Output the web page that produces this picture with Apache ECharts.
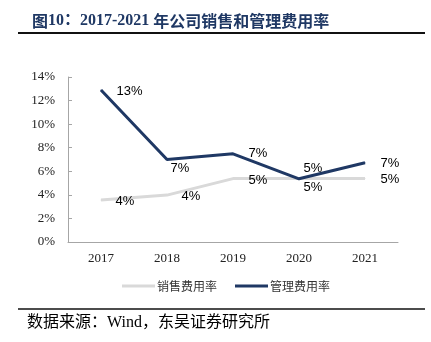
<!DOCTYPE html>
<html>
<head>
<meta charset="utf-8">
<script src="https://cdn.jsdelivr.net/npm/echarts@6/dist/echarts.min.js"></script>
<style>
html,body{margin:0;padding:0;background:#fff;}
#c{width:431px;height:342px;}
</style>
</head>
<body>
<div id="c"></div>
<script>
var categories = ['2017', '2018', '2019', '2020', '2021'];
var salesRate = [3.56, 3.98, 5.38, 5.38, 5.38];
var mgmtRate = [12.9, 7.0, 7.48, 5.36, 6.72];
var salesLabels = ['4%', '4%', '5%', '5%', '5%'];
var mgmtLabels = ['13%', '7%', '7%', '5%', '7%'];
var yTicks = [0, 2, 4, 6, 8, 10, 12, 14];
var salesOffsets = [[0, 1], [0, 1], [1, 2], [-10, 9], [1, 1]];
var mgmtOffsets = [[1, 1], [-11, 9], [1, 0], [-10, -10], [1, 1]];

function build(vals, labels, offs) {
  return vals.map(function (v, i) {
    return { value: v, label: { formatter: labels[i], offset: offs[i] } };
  });
}

var chart = echarts.init(document.getElementById('c'));
var labelStyle = { show: true, position: 'right', distance: 14, color: '#000', fontSize: 13, fontFamily: 'Liberation Sans, Arial, sans-serif' };
chart.setOption({
  animation: false,
  backgroundColor: '#fff',
  title: {
    text: '{a|图}{b|10：}{b|2017-2021 }{a|年公司销售和管理费用率}',
    left: 27, top: 8,
    textStyle: {
      rich: {
        a: { fontFamily: 'Noto Sans CJK SC', fontWeight: 'bold', fontSize: 16, color: '#1f3864' },
        b: { fontFamily: 'Liberation Serif, Noto Sans CJK SC', fontWeight: 'bold', fontSize: 16, color: '#1f3864' }
      }
    }
  },
  graphic: [
    { type: 'line', shape: { x1: 18, y1: 33, x2: 425, y2: 33 }, style: { stroke: '#111', lineWidth: 2 } },
    { type: 'line', shape: { x1: 18, y1: 309, x2: 425, y2: 309 }, style: { stroke: '#111', lineWidth: 1.5 } },
    { type: 'text', left: 27, top: 315, style: { text: '数据来源：Wind，东吴证券研究所', fontSize: 16, fontFamily: 'Liberation Serif, Noto Sans CJK SC', fill: '#000' } }
  ],
  grid: { left: 68, right: 33, top: 77, bottom: 100 },
  legend: {
    left: 117, top: 275,
    itemWidth: 33, itemHeight: 3, itemGap: 18,
    icon: 'rect',
    textStyle: { fontSize: 12, fontFamily: 'Noto Sans CJK SC', color: '#333', padding: [0, 0, 0, -3] },
    data: ['销售费用率', '管理费用率']
  },
  xAxis: {
    type: 'category',
    data: categories,
    boundaryGap: true,
    axisLine: { lineStyle: { color: '#a6a6a6', width: 1 } },
    axisTick: { inside: true, length: 4, lineStyle: { color: '#a6a6a6' } },
    axisLabel: { color: '#222', fontSize: 13, fontFamily: 'Liberation Serif, serif', margin: 10 }
  },
  yAxis: {
    type: 'value',
    min: yTicks[0], max: yTicks[yTicks.length - 1], interval: 2,
    axisLine: { show: true, lineStyle: { color: '#a6a6a6', width: 1 } },
    axisTick: { show: true, inside: true, length: 4, lineStyle: { color: '#a6a6a6' } },
    splitLine: { show: false },
    axisLabel: { color: '#222', fontSize: 13, fontFamily: 'Liberation Serif, serif', margin: 13, formatter: '{value}%' }
  },
  series: [
    {
      name: '销售费用率', type: 'line', data: build(salesRate, salesLabels, salesOffsets),
      symbol: 'circle', symbolSize: 1, showSymbol: true, lineStyle: { color: '#d9d9d9', width: 3 }, itemStyle: { color: '#d9d9d9' },
      label: labelStyle, z: 2
    },
    {
      name: '管理费用率', type: 'line', data: build(mgmtRate, mgmtLabels, mgmtOffsets),
      symbol: 'circle', symbolSize: 1, showSymbol: true, lineStyle: { color: '#1f3864', width: 3 }, itemStyle: { color: '#1f3864' },
      label: labelStyle, z: 3
    }
  ]
});
</script>
</body>
</html>
